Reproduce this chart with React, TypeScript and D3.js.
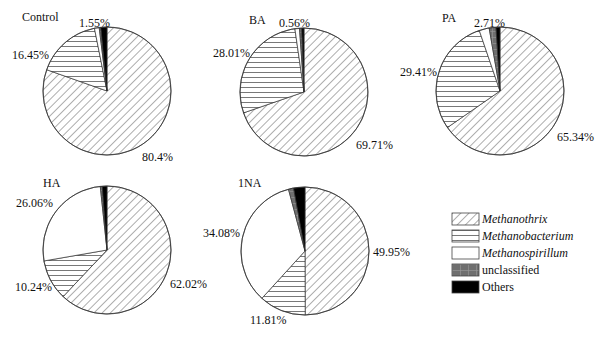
import { useEffect } from "react";
import * as d3 from "d3";

// Genera, in the order the slices run clockwise from 12 o'clock
const genera = [
  "Methanothrix",
  "Methanobacterium",
  "Methanospirillum",
  "unclassified",
  "Others",
];
const italicGenus = [true, true, true, false, false];

const samples = ["Control", "BA", "PA", "HA", "1NA"];
const methanothrix = [80.4, 69.71, 65.34, 62.02, 49.95];
const methanobacterium = [16.45, 28.01, 29.41, 10.24, 11.81];
const methanospirillum = [1.2, 1.16, 2.54, 26.06, 34.08];
const unclassified = [0.4, 0.56, 1.71, 0.5, 1.3];
const others = [1.55, 0.56, 1.0, 1.18, 2.86];

// printed percentage labels for each sample
const sampleLabels = [
  ["1.55%", "16.45%", "80.4%"],
  ["0.56%", "28.01%", "69.71%"],
  ["2.71%", "29.41%", "65.34%"],
  ["26.06%", "10.24%", "62.02%"],
  ["34.08%", "49.95%", "11.81%"],
];

// layout: pie centres and label offsets (relative to centre)
const centers: [number, number][] = [
  [107, 91],
  [304, 92],
  [500, 91],
  [107, 250],
  [305, 251],
];
const titleOffsets: [number, number][] = [
  [-85, -70],
  [-55, -68],
  [-58, -69],
  [-64, -63],
  [-67, -64],
];
const labelOffsets: [number, number][][] = [
  [[-28, -64], [-95, -32], [35, 70]],
  [[-25, -65], [-91, -35], [52, 57]],
  [[-26, -64], [-100, -15], [57, 50]],
  [[-91, -43], [-92, 41], [63, 38]],
  [[-102, -14], [68, 5], [-55, 73]],
];

const fills = [
  "url(#diag)",
  "url(#horiz)",
  "#ffffff",
  "url(#grid)",
  "#000000",
];

const R = 64;
const FONT = "Liberation Serif";

export default function App() {
  useEffect(() => {
    document.body.style.margin = "0";
  }, []);

  const pie = d3
    .pie<number>()
    .sort(null)
    .value((d) => d);
  const arc = d3.arc<d3.PieArcDatum<number>>().innerRadius(0).outerRadius(R);

  const legendY = d3
    .scalePoint<string>()
    .domain(genera)
    .range([219, 287]);

  return (
    <svg width={611} height={337} style={{ display: "block" }}>
      <defs>
        <pattern
          id="diag"
          patternUnits="userSpaceOnUse"
          width={5.8}
          height={5.8}
          patternTransform="rotate(45)"
        >
          <rect width={5.8} height={5.8} fill="#fff" />
          <line x1={0} y1={0} x2={0} y2={5.8} stroke="#333" strokeWidth={0.8} />
        </pattern>
        <pattern id="horiz" patternUnits="userSpaceOnUse" width={8} height={5}>
          <rect width={8} height={5} fill="#fff" />
          <line x1={0} y1={0.5} x2={8} y2={0.5} stroke="#555" strokeWidth={0.8} />
        </pattern>
        <pattern id="grid" patternUnits="userSpaceOnUse" width={8} height={6}>
          <rect width={8} height={6} fill="#6f6f6f" />
          <line x1={0} y1={0.5} x2={8} y2={0.5} stroke="#9a9a9a" strokeWidth={0.6} />
          <line x1={0.5} y1={0} x2={0.5} y2={6} stroke="#9a9a9a" strokeWidth={0.6} />
        </pattern>
      </defs>

      {samples.map((s, i) => {
        const values = [
          methanothrix[i],
          methanobacterium[i],
          methanospirillum[i],
          unclassified[i],
          others[i],
        ];
        const arcs = pie(values);
        const [cx, cy] = centers[i];
        return (
          <g key={s} transform={`translate(${cx},${cy})`}>
            {arcs.map((a, j) => (
              <path
                key={j}
                d={arc(a) ?? ""}
                fill={fills[j]}
                stroke="#333"
                strokeWidth={0.7}
              />
            ))}
            <circle r={R} fill="none" stroke="#333" strokeWidth={0.8} />
            <text
              x={titleOffsets[i][0]}
              y={titleOffsets[i][1]}
              fontFamily={FONT}
              fontSize={12}
              fill="#111"
            >
              {s}
            </text>
            {sampleLabels[i].map((lab, k) => (
              <text
                key={lab}
                x={labelOffsets[i][k][0]}
                y={labelOffsets[i][k][1]}
                fontFamily={FONT}
                fontSize={12}
                fill="#111"
              >
                {lab}
              </text>
            ))}
          </g>
        );
      })}

      <g>
        {genera.map((g, j) => {
          const y = legendY(g) as number;
          return (
            <g key={g} transform={`translate(452,${y - 6})`}>
              <rect width={27} height={12} fill={fills[j]} stroke="#444" strokeWidth={0.8} />
              <text
                x={30}
                y={10}
                fontFamily={FONT}
                fontSize={12}
                fontStyle={italicGenus[j] ? "italic" : "normal"}
                fill="#111"
              >
                {g}
              </text>
            </g>
          );
        })}
      </g>
    </svg>
  );
}
